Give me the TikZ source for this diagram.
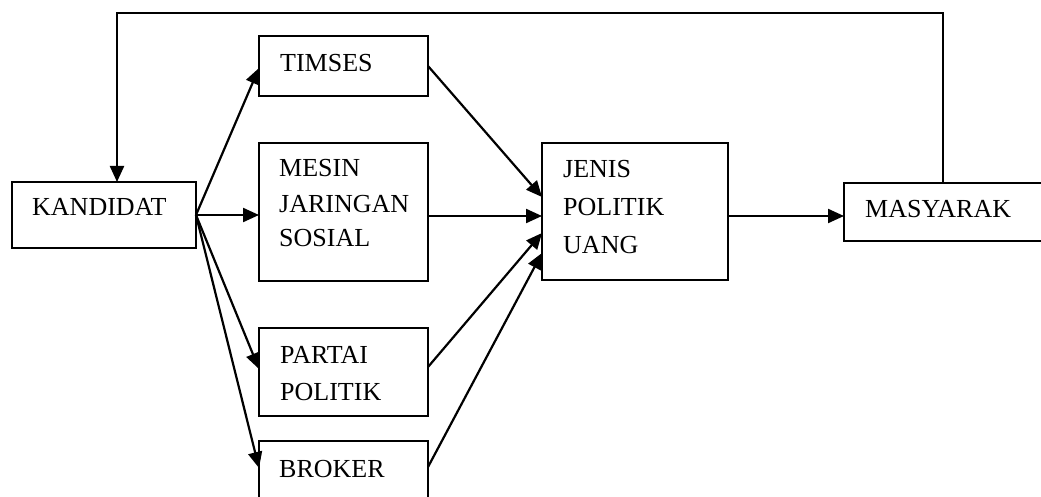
\documentclass[tikz,border=0pt]{standalone}
\usepackage{fontspec}
\setmainfont{Liberation Serif}
\usetikzlibrary{arrows.meta}
\begin{document}
\begin{tikzpicture}[x=1pt,y=-1pt,
  box/.style={draw,line width=2pt,inner sep=0pt,outer sep=0pt},
  txt/.style={anchor=base west,inner sep=0pt,font=\fontsize{26}{30}\selectfont},
  arr/.style={line width=2.2pt,-{Triangle[length=16pt,width=14pt]}}]
\useasboundingbox (0,0) rectangle (1041,497);
\clip (0,0) rectangle (1041,497);
% boxes
\node[box,minimum width=184pt,minimum height=66pt] (kand) at (104,215) {};
\node[box,minimum width=169pt,minimum height=60pt] (timses) at (343.5,66) {};
\node[box,minimum width=169pt,minimum height=138pt] (mesin) at (343.5,212) {};
\node[box,minimum width=169pt,minimum height=88pt] (partai) at (343.5,372) {};
\node[box,minimum width=169pt,minimum height=79pt] (broker) at (343.5,480.5) {};
\node[box,minimum width=186pt,minimum height=137pt] (jenis) at (635,211.5) {};
\node[box,minimum width=216pt,minimum height=58pt] (masy) at (952,212) {};
% texts
\node[txt] (tk) at (32,215) {KANDIDAT};
\node[txt] (tt) at (280,72) {TIMSES};
\node[txt] (tm1) at (279,177) {MESIN};
\node[txt] (tm2) at (279,212) {JARINGAN};
\node[txt] (tm3) at (279,246) {SOSIAL};
\node[txt] (tp1) at (280,363) {PARTAI};
\node[txt] (tp2) at (280,400) {POLITIK};
\node[txt] (tb) at (279,477) {BROKER};
\node[txt] (tj1) at (563,178) {JENIS};
\node[txt] (tj2) at (563,215) {POLITIK};
\node[txt] (tj3) at (563,253) {UANG};
\node[txt] (tms) at (865,218) {MASYARAK};
% connectors
\draw[arr] (kand.east) -- ([yshift=-2pt]timses.west);
\draw[arr] (kand.east) -- (kand.east -| mesin.west);
\draw[arr] (kand.east) -- ([yshift=3pt]partai.west);
\draw[arr] (kand.east) -- ([yshift=12.5pt]broker.west);
\draw[arr] (timses.east) -- ([yshift=14.5pt]jenis.west);
\draw[arr] ([yshift=-4pt]mesin.east) -- ([yshift=-4pt]mesin.east -| jenis.west);
\draw[arr] ([yshift=5pt]partai.east) -- ([yshift=-21.5pt]jenis.west);
\draw[arr] ([yshift=13.5pt]broker.east) -- ([yshift=-41.5pt]jenis.west);
\draw[arr] ([yshift=-4.5pt]jenis.east) -- ([yshift=-4.5pt]jenis.east -| masy.west);
\coordinate (fbR) at (943,13);
\coordinate (fbL) at (117,13);
\draw[arr] (fbR |- masy.north) -- (fbR) -- (fbL) -- (fbL |- kand.north);
\end{tikzpicture}
\end{document}
